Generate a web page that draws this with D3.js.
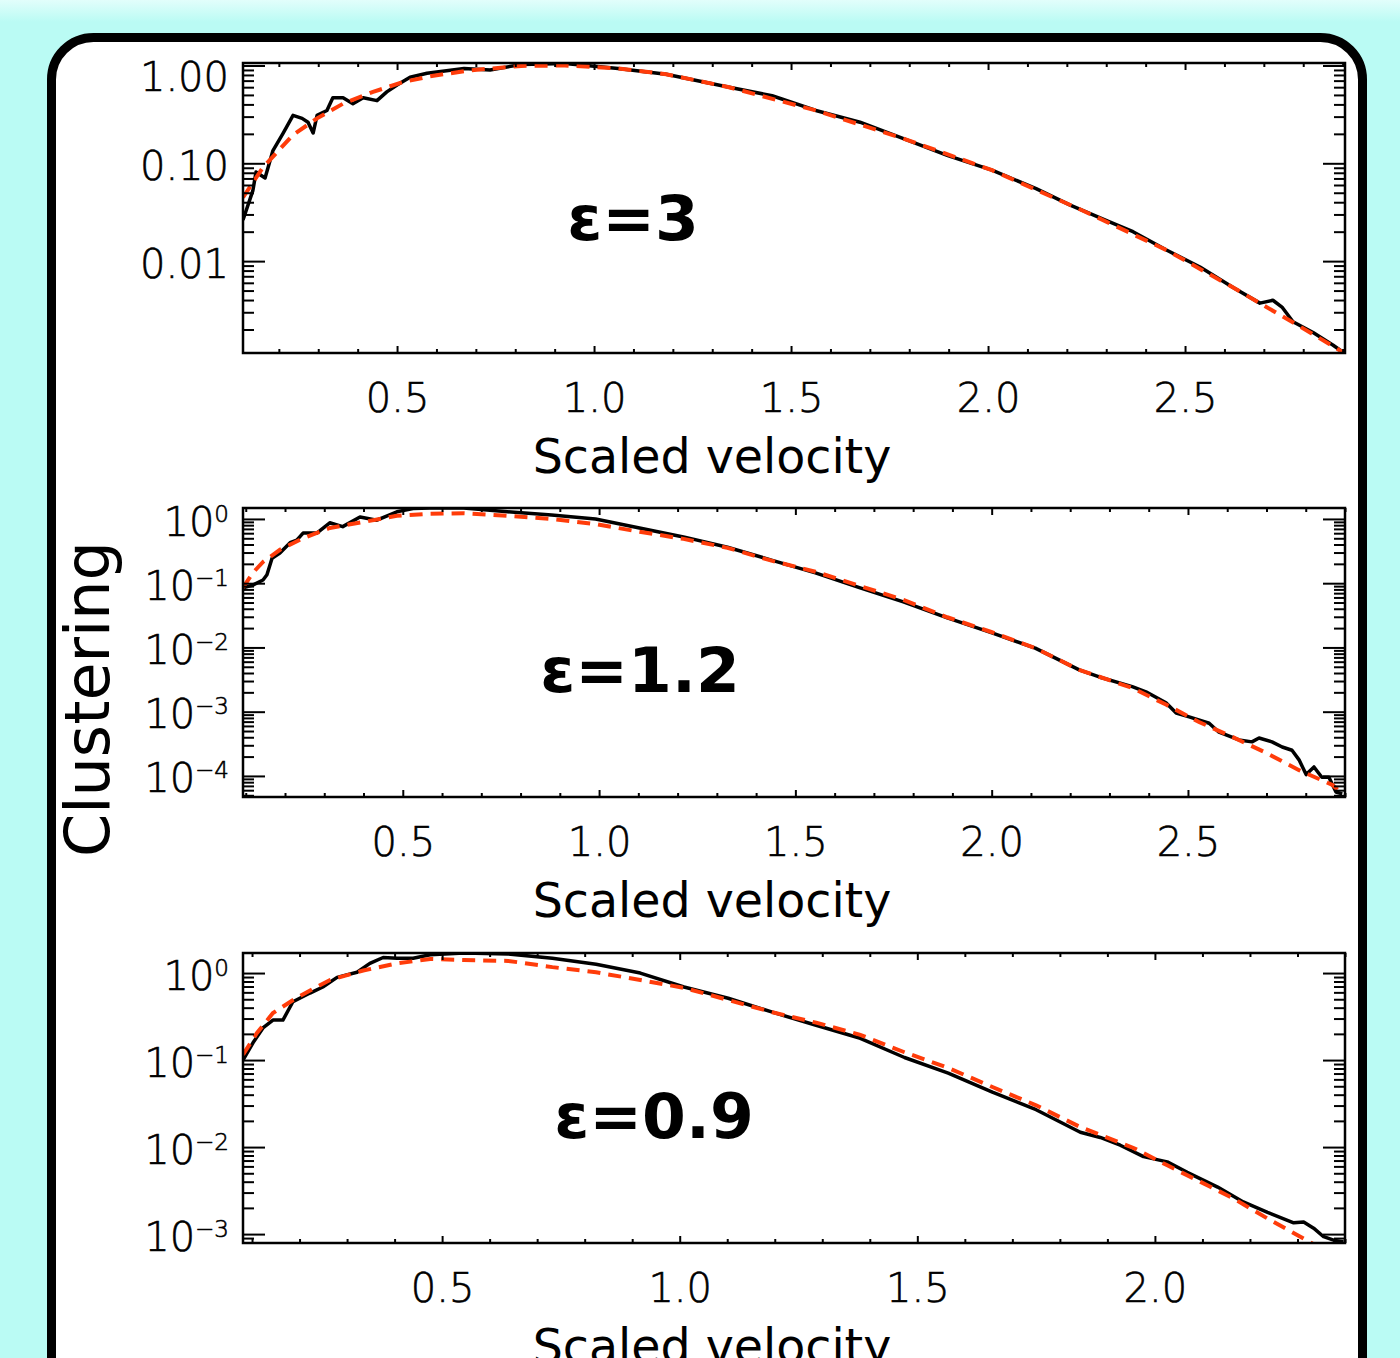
<!DOCTYPE html>
<html>
<head>
<meta charset="utf-8">
<script src="https://cdn.jsdelivr.net/npm/d3@7/dist/d3.min.js"></script>
<style>
  body { margin: 0; background: #bafbf4; }
  svg { display: block; }
  .tick line { stroke: #000; stroke-width: 2; }
  .ticklbl { font-family: "DejaVu Sans", sans-serif; font-weight: 300; fill: #000; stroke: #000; stroke-width: 0.6px; }
</style>
</head>
<body>
<div id="chart"></div>
<script>
// ---- data (scaled velocity vs clustering) ----
// eps = 3, simulation (black)
const eps3V = [0.109, 0.134, 0.142, 0.165, 0.185, 0.211, 0.236, 0.259, 0.274, 0.287, 0.297, 0.322, 0.337, 0.363, 0.388, 0.414, 0.449, 0.474, 0.5, 0.533, 0.576, 0.67, 0.736, 0.815, 0.926, 1.061, 1.183, 1.34, 1.452, 1.563, 1.675, 1.787, 1.898, 2.01, 2.122, 2.21, 2.31, 2.368, 2.454, 2.538, 2.622, 2.69, 2.723, 2.746, 2.774, 2.825, 2.876, 2.901];
const eps3C = [0.0263, 0.0525, 0.0813, 0.0708, 0.135, 0.204, 0.309, 0.288, 0.263, 0.204, 0.309, 0.347, 0.468, 0.468, 0.407, 0.468, 0.437, 0.537, 0.631, 0.759, 0.832, 0.933, 0.90, 1.023, 1.05, 0.933, 0.813, 0.603, 0.49, 0.347, 0.263, 0.178, 0.12, 0.0851, 0.055, 0.0372, 0.0251, 0.02, 0.0129, 0.00871, 0.00537, 0.00372, 0.00398, 0.00339, 0.0024, 0.00186, 0.00138, 0.00117];
// eps = 3, fit (red dashed)
const eps3FitV = [0.109, 0.16, 0.236, 0.297, 0.363, 0.439, 0.515, 0.584, 0.685, 0.815, 0.926, 1.061, 1.183, 1.34, 1.563, 1.787, 2.01, 2.233, 2.454, 2.622, 2.792, 2.901];
const eps3FitC = [0.0447, 0.0912, 0.195, 0.288, 0.407, 0.537, 0.676, 0.776, 0.891, 0.99, 1.0, 0.933, 0.813, 0.603, 0.347, 0.178, 0.0851, 0.0339, 0.0129, 0.00537, 0.00214, 0.00117];

// eps = 1.2
const eps12V = [0.093, 0.118, 0.144, 0.154, 0.167, 0.187, 0.213, 0.23, 0.246, 0.281, 0.314, 0.347, 0.391, 0.434, 0.485, 0.526, 0.569, 0.655, 0.767, 0.879, 0.991, 1.103, 1.215, 1.327, 1.439, 1.551, 1.663, 1.775, 1.887, 1.999, 2.111, 2.223, 2.274, 2.358, 2.393, 2.444, 2.47, 2.503, 2.554, 2.579, 2.63, 2.663, 2.681, 2.714, 2.74, 2.765, 2.783, 2.801, 2.821, 2.841, 2.859, 2.877, 2.893];
const eps12C = [0.0851, 0.0933, 0.112, 0.135, 0.245, 0.295, 0.427, 0.468, 0.603, 0.603, 0.871, 0.759, 1.07, 0.955, 1.29, 1.45, 1.48, 1.48, 1.29, 1.15, 1.0, 0.724, 0.525, 0.363, 0.229, 0.145, 0.0851, 0.0513, 0.0288, 0.017, 0.00977, 0.00447, 0.00347, 0.00245, 0.00204, 0.00138, 0.000955, 0.000832, 0.000661, 0.000479, 0.000363, 0.000339, 0.000389, 0.000339, 0.000282, 0.000251, 0.000178, 0.000105, 0.000138, 0.0000955, 0.0000955, 0.0000562, 0.0000525];
const eps12FitV = [0.093, 0.118, 0.144, 0.187, 0.246, 0.314, 0.398, 0.485, 0.569, 0.655, 0.767, 0.879, 0.991, 1.103, 1.215, 1.327, 1.439, 1.551, 1.663, 1.775, 1.887, 1.999, 2.111, 2.223, 2.358, 2.444, 2.528, 2.612, 2.699, 2.783, 2.868, 2.893];
const eps12FitC = [0.0851, 0.145, 0.214, 0.331, 0.501, 0.724, 0.891, 1.12, 1.2, 1.23, 1.12, 1.0, 0.832, 0.631, 0.49, 0.355, 0.224, 0.151, 0.0912, 0.055, 0.0295, 0.0174, 0.00977, 0.00447, 0.00234, 0.00129, 0.000692, 0.000407, 0.000229, 0.000123, 0.0000724, 0.0000525];

// eps = 0.9
const eps09V = [0.081, 0.102, 0.123, 0.144, 0.165, 0.186, 0.222, 0.249, 0.279, 0.321, 0.348, 0.376, 0.405, 0.439, 0.475, 0.546, 0.639, 0.732, 0.824, 0.917, 1.009, 1.102, 1.195, 1.287, 1.38, 1.473, 1.565, 1.658, 1.75, 1.843, 1.885, 1.927, 1.976, 2.026, 2.068, 2.132, 2.186, 2.237, 2.292, 2.313, 2.334, 2.355, 2.376, 2.397];
const eps09C = [0.1, 0.158, 0.234, 0.288, 0.288, 0.468, 0.589, 0.692, 0.891, 1.02, 1.29, 1.51, 1.48, 1.48, 1.62, 1.7, 1.66, 1.48, 1.26, 1.0, 0.692, 0.513, 0.355, 0.251, 0.178, 0.107, 0.0708, 0.0427, 0.0269, 0.0148, 0.0129, 0.0105, 0.00776, 0.00676, 0.00513, 0.00347, 0.00234, 0.00178, 0.00135, 0.00138, 0.00117, 0.000933, 0.000851, 0.000813];
const eps09FitV = [0.081, 0.11, 0.144, 0.195, 0.264, 0.334, 0.405, 0.475, 0.546, 0.639, 0.732, 0.824, 0.917, 1.009, 1.102, 1.195, 1.287, 1.38, 1.473, 1.565, 1.658, 1.75, 1.843, 1.955, 2.026, 2.096, 2.165, 2.237, 2.306, 2.348];
const eps09FitC = [0.115, 0.204, 0.347, 0.525, 0.832, 1.07, 1.29, 1.45, 1.41, 1.38, 1.17, 1.02, 0.832, 0.676, 0.49, 0.355, 0.269, 0.195, 0.123, 0.0813, 0.049, 0.0302, 0.017, 0.00977, 0.00617, 0.00398, 0.00257, 0.00151, 0.000933, 0.000692];

const panelLabels = ["ε=3", "ε=1.2", "ε=0.9"];
const xTickLabels = [["0.5", "1.0", "1.5", "2.0", "2.5"], ["0.5", "1.0", "1.5", "2.0", "2.5"], ["0.5", "1.0", "1.5", "2.0"]];
const yMajorTicks = [[1, 0.1, 0.01], [1, 0.1, 0.01, 0.001, 0.0001], [1, 0.1, 0.01, 0.001]];
const xTitle = "Scaled velocity";
const yTitle = "Clustering";

// ---- layout ----
const width = 1400, height = 1358;
const left = 243, right = 1345;

const panels = [
  { top: 63, bottom: 353, xDomain: [0.109, 2.906], yDomain: [0.00115, 1.06], v: eps3V, c: eps3C, fv: eps3FitV, fc: eps3FitC, powers: false, lx: 633, ly: 240 },
  { top: 508, bottom: 797, xDomain: [0.093, 2.9], yDomain: [0.000047, 1.48], v: eps12V, c: eps12C, fv: eps12FitV, fc: eps12FitC, powers: true, lx: 640, ly: 692 },
  { top: 953, bottom: 1243, xDomain: [0.081, 2.4], yDomain: [0.00079, 1.70], v: eps09V, c: eps09C, fv: eps09FitV, fc: eps09FitC, powers: true, lx: 654, ly: 1138 }
];

const svg = d3.select("#chart")
  .append("svg")
  .attr("width", width)
  .attr("height", height)
  .attr("viewBox", [0, 0, width, height]);

// faint light haze along the top edge
const grad = svg.append("defs").append("linearGradient")
  .attr("id", "haze").attr("x1", 0).attr("x2", 0).attr("y1", 0).attr("y2", 1);
grad.append("stop").attr("offset", 0).attr("stop-color", "#e2fefb");
grad.append("stop").attr("offset", 1).attr("stop-color", "#bafbf4");
svg.append("rect").attr("width", width).attr("height", height).attr("fill", "#bafbf4");
svg.append("rect").attr("width", width).attr("height", 22).attr("fill", "url(#haze)");

// white rounded card
svg.append("rect")
  .attr("x", 51.5).attr("y", 37.5)
  .attr("width", 1311).attr("height", 1420)
  .attr("rx", 42)
  .attr("fill", "#fff")
  .attr("stroke", "#000")
  .attr("stroke-width", 9);

panels.forEach((p, i) => {
  const x = d3.scaleLinear().domain(p.xDomain).range([left, right]);
  const y = d3.scaleLog().domain(p.yDomain).range([p.bottom, p.top]);
  const g = svg.append("g");

  // tick values
  const xMajor = d3.range(0.5, p.xDomain[1] + 1e-9, 0.5);
  const xMinor = d3.range(1, Math.floor(p.xDomain[1] * 10 + 1e-6) + 1)
    .map(k => k / 10)
    .filter(v => v >= p.xDomain[0] && Math.abs(v * 2 - Math.round(v * 2)) > 1e-6);
  const yMinor = [];
  for (let e = -6; e <= 1; e++) {
    for (let k = 2; k <= 9; k++) {
      const v = k * Math.pow(10, e);
      if (v >= p.yDomain[0] && v <= p.yDomain[1]) yMinor.push(v);
    }
  }

  const clipId = "clip" + i;
  svg.append("clipPath").attr("id", clipId)
    .append("rect")
    .attr("x", left).attr("y", p.top)
    .attr("width", right - left).attr("height", p.bottom - p.top);

  // curves
  const line = d3.line().x(d => x(d[0])).y(d => y(d[1]));
  g.append("path")
    .datum(d3.zip(p.v, p.c))
    .attr("clip-path", `url(#${clipId})`)
    .attr("fill", "none")
    .attr("stroke", "#000")
    .attr("stroke-width", 3.5)
    .attr("stroke-linejoin", "round")
    .attr("d", line);
  g.append("path")
    .datum(d3.zip(p.fv, p.fc))
    .attr("clip-path", `url(#${clipId})`)
    .attr("fill", "none")
    .attr("stroke", "#ff3c0a")
    .attr("stroke-width", 4)
    .attr("stroke-dasharray", "13,8")
    .attr("d", line);

  // x axes: bottom (labelled) and top, ticks pointing inward
  const xb = g.append("g").attr("transform", `translate(0,${p.bottom})`)
    .call(d3.axisBottom(x).tickValues(xMajor).tickSize(-7).tickPadding(31)
      .tickFormat((d, j) => xTickLabels[i][j]));
  g.append("g").attr("transform", `translate(0,${p.bottom})`)
    .call(d3.axisBottom(x).tickValues(xMinor).tickSize(-4).tickFormat(""));
  g.append("g").attr("transform", `translate(0,${p.top})`)
    .call(d3.axisTop(x).tickValues(xMajor).tickSize(-7).tickFormat(""));
  g.append("g").attr("transform", `translate(0,${p.top})`)
    .call(d3.axisTop(x).tickValues(xMinor).tickSize(-4).tickFormat(""));
  xb.selectAll(".tick text").attr("class", "ticklbl").attr("font-size", 40);

  // y axes: left (labelled) and right
  const yl = g.append("g").attr("transform", `translate(${left},0)`)
    .call(d3.axisLeft(y).tickValues(yMajorTicks[i]).tickSize(-22).tickPadding(14));
  g.append("g").attr("transform", `translate(${left},0)`)
    .call(d3.axisLeft(y).tickValues(yMinor).tickSize(-11).tickFormat(""));
  g.append("g").attr("transform", `translate(${right},0)`)
    .call(d3.axisRight(y).tickValues(yMajorTicks[i]).tickSize(-22).tickFormat(""));
  g.append("g").attr("transform", `translate(${right},0)`)
    .call(d3.axisRight(y).tickValues(yMinor).tickSize(-11).tickFormat(""));

  yl.selectAll(".tick text").each(function (d) {
    const t = d3.select(this);
    const off = Math.max(0, p.top + 11 - y(d));
    t.attr("class", "ticklbl").attr("font-size", 40)
      .attr("dy", null).attr("y", off + 16).text(null);
    if (!p.powers) {
      t.text(d3.format(".2f")(d));
    } else {
      const e = Math.round(Math.log10(d));
      t.append("tspan").text("10");
      t.append("tspan").attr("font-size", 23).attr("dy", -14)
        .text(String(e).replace("-", "−"));
    }
  });

  g.selectAll(".domain").remove();

  // frame
  g.append("rect")
    .attr("x", left).attr("y", p.top)
    .attr("width", right - left).attr("height", p.bottom - p.top)
    .attr("fill", "none").attr("stroke", "#000").attr("stroke-width", 2.5);

  // x title
  g.append("text")
    .attr("x", 712).attr("y", p.bottom + 120)
    .attr("text-anchor", "middle")
    .attr("font-family", "DejaVu Sans, sans-serif")
    .attr("font-size", 47.5)
    .text(xTitle);

  // panel label
  g.append("text")
    .attr("x", p.lx).attr("y", p.ly)
    .attr("text-anchor", "middle")
    .attr("font-family", "DejaVu Sans, sans-serif")
    .attr("font-weight", "bold")
    .attr("font-size", 63)
    .text(panelLabels[i]);
});

// shared y title
svg.append("text")
  .attr("transform", "translate(109,699) rotate(-90)")
  .attr("text-anchor", "middle")
  .attr("font-family", "DejaVu Sans, sans-serif")
  .attr("font-size", 62)
  .text(yTitle);
</script>
</body>
</html>
